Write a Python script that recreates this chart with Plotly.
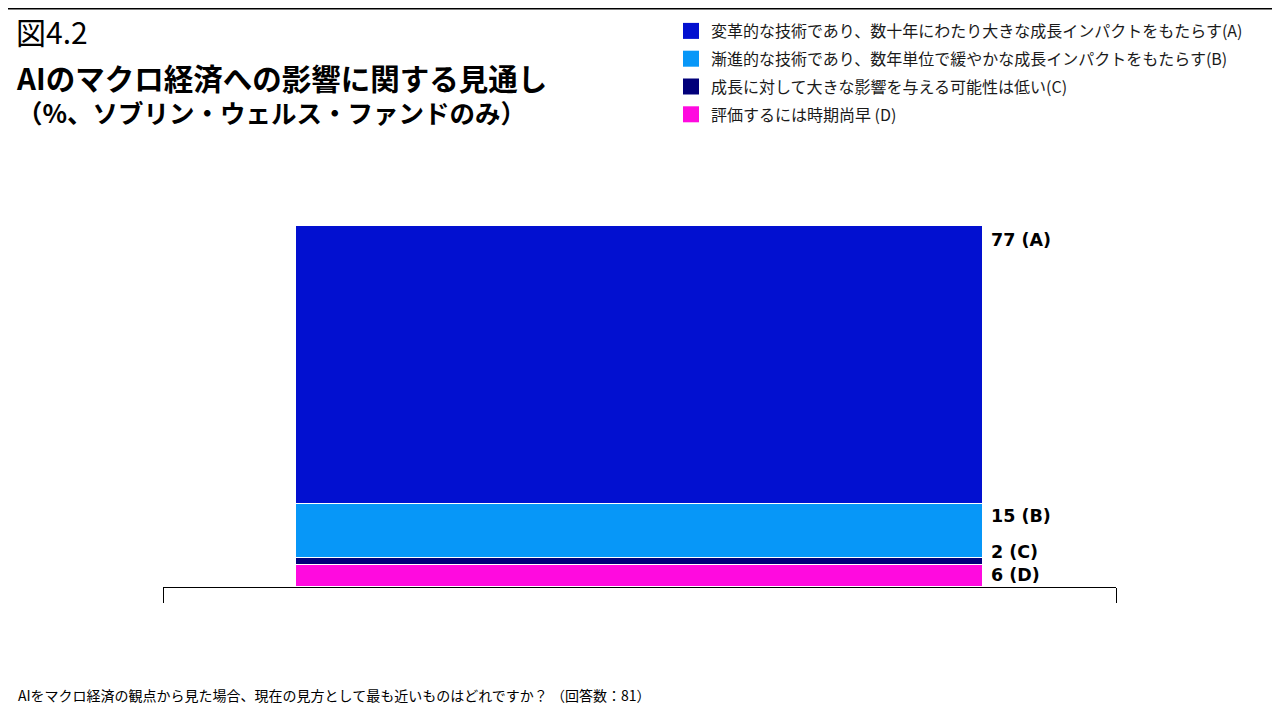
import plotly.graph_objects as go

category = ["SWF"]
series_names = [
    "変革的な技術であり、数十年にわたり大きな成長インパクトをもたらす(A)",
    "漸進的な技術であり、数年単位で緩やかな成長インパクトをもたらす(B)",
    "成長に対して大きな影響を与える可能性は低い(C)",
    "評価するには時期尚早 (D)",
]
series_letters = ["A", "B", "C", "D"]
series_values = [77, 15, 2, 6]
series_colors = ["#0210D0", "#0797F8", "#01007A", "#FF0ADF"]
label_shifts = [-14, -12, 6, -10]

FONT = "Noto Sans CJK JP"
LABEL_FONT = "DejaVu Sans"
OFF = 8  # page offset of the figure inside the browser window
L, R, T, B = 163, 1116, 226, 587  # plot area in screen pixels


def px(x):
    return (x - L) / (R - L)


def py(y):
    return (B - y) / (B - T)


fig = go.Figure()
# stack from bottom: D, C, B, A
for i in reversed(range(4)):
    fig.add_trace(go.Bar(
        x=category, y=[series_values[i]], name=series_names[i],
        marker=dict(color=series_colors[i], line=dict(color="white", width=1.5)),
        width=0.72, hoverinfo="skip", showlegend=False,
    ))
# legend entries (A to D, top to bottom)
for i in range(4):
    fig.add_trace(go.Scatter(
        x=[None], y=[None], mode="markers", name=series_names[i],
        marker=dict(symbol="square", size=16, color=series_colors[i]),
        legendgroup=series_letters[i], showlegend=True,
    ))

# value labels at right of bar, placed at cumulative tops
cum = 0
tops = {}
for i in reversed(range(4)):
    cum += series_values[i]
    tops[i] = cum
for i in range(4):
    fig.add_annotation(
        x=0.36, y=tops[i], xref="x", yref="y",
        text=f"<b>{series_values[i]} ({series_letters[i]})</b>",
        showarrow=False, xanchor="left", yanchor="middle", xshift=6, yshift=label_shifts[i],
        font=dict(family=LABEL_FONT, size=17.5, color="#000000"),
    )


def pa(text, x, y, size, bold=False):
    fig.add_annotation(
        x=px(x), y=py(y), xref="paper", yref="paper",
        text=f"<b>{text}</b>" if bold else text, showarrow=False,
        xanchor="left", yanchor="middle", align="left",
        font=dict(family=FONT, size=size, color="#000000"),
    )


pa("図4.2", 14, 31, 30)
pa("<span style='font-size:29.5px'>AIのマクロ経済への影響に関する見通し</span><br>"
   "（%、ソブリン・ウェルス・ファンドのみ）", 14, 93, 25.5, bold=True)
pa("AIをマクロ経済の観点から見た場合、現在の見方として最も近いものはどれですか？ （回答数：81）", 16, 695, 14)

fig.add_shape(type="line", xref="paper", yref="paper", x0=px(0), x1=px(1290), y0=py(OFF + 0.75), y1=py(OFF + 0.75),
              line=dict(color="#000000", width=1.5))

fig.update_layout(
    width=1280, height=720,
    margin=dict(l=L - OFF, r=1280 - (L - OFF) - (R - L), t=T - OFF, b=720 - (T - OFF) - (B - T),
                autoexpand=False),
    paper_bgcolor="white", plot_bgcolor="white",
    barmode="stack", bargap=0,
    font=dict(family=FONT, color="#000000"),
    showlegend=True,
    legend=dict(
        x=px(671), y=py(14),
        xanchor="left", yanchor="top", traceorder="grouped",
        font=dict(family=FONT, size=16, color="#1a1a1a"),
        tracegroupgap=4, itemwidth=30, bgcolor="rgba(0,0,0,0)",
    ),
    xaxis=dict(
        range=[-0.5, 0.5], showticklabels=False, showgrid=False,
        showline=True, linecolor="#000000", linewidth=1,
        ticks="outside", tickson="boundaries", ticklen=15, tickcolor="#000000",
        fixedrange=True,
    ),
    yaxis=dict(range=[0, 100], visible=False, showgrid=False, fixedrange=True),
)

fig.write_html("out.html")
